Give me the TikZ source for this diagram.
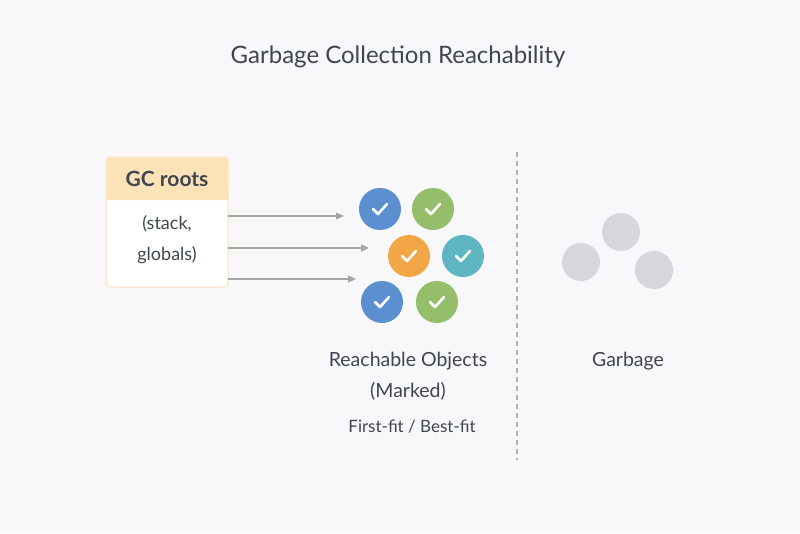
\documentclass[tikz,border=0pt]{standalone}
\usepackage{fontspec}
\setmainfont{Lato}
\usetikzlibrary{arrows.meta,calc}
\definecolor{bg}{HTML}{F8F8FA}
\definecolor{txt}{HTML}{3F4650}
\definecolor{cb}{HTML}{5B8FD0}
\definecolor{cg}{HTML}{94BE6A}
\definecolor{co}{HTML}{F2A646}
\definecolor{ct}{HTML}{5DB6C2}
\definecolor{gr}{HTML}{D6D7DD}
\definecolor{hdr}{HTML}{FCE2B6}
\definecolor{bdr}{HTML}{F7E3B8}
\begin{document}
\begin{tikzpicture}[x=1pt,y=-1pt,
  obj/.style={circle,minimum size=42pt,inner sep=0pt,draw=none},
  chk/.style={white,line width=2.6pt,line cap=round,line join=round},
  arr/.style={draw=gray!70,line width=1.2pt,-{Triangle[length=8pt,width=7pt]}},
  lbl/.style={text=txt,font=\fontsize{19.5}{22}\selectfont}]
\fill[bg] (0,0) rectangle (800,533);
\node[lbl,font=\fontsize{24}{28}\selectfont] (title) at (398,57) {Garbage Collection Reachability};
\fill[white,draw=bdr,line width=1pt,rounded corners=4pt] (106,157) rectangle (228,287);
\fill[hdr,rounded corners=4pt] (106.5,157.5) rectangle (227.5,200);
\fill[hdr] (106.5,190) rectangle (227.5,200);
\node[lbl,font=\bfseries\fontsize{21}{24}\selectfont] (gc) at (167,179) {GC roots};
\node[lbl,align=center,font=\fontsize{18}{31}\selectfont] (sg) at (167,240) {(stack,\\globals)};
\coordinate (s1) at (228,216); \coordinate (s2) at (228,248); \coordinate (s3) at (228,279);
\coordinate (e1) at (344,216); \coordinate (e2) at (369,248); \coordinate (e3) at (356,279);
\draw[arr] (s1) -- (e1); \draw[arr] (s2) -- (e2); \draw[arr] (s3) -- (e3);
\foreach \n/\x/\y/\c in {o1/380/209/cb,o2/433/209/cg,o3/409/256/co,o4/463/256/ct,o5/382/302/cb,o6/437/302/cg}{
  \node[obj,fill=\c] (\n) at (\x,\y) {};
  \draw[chk] ($(\x,\y)+(-7,0)$) -- ++(5,5) -- ++(9,-10);
}
\node[lbl] (r1) at (408,361) {Reachable Objects};
\node[lbl] (r2) at (408,391) {(Marked)};
\node[lbl,font=\fontsize{17}{20}\selectfont] (r3) at (412,427) {First-fit / Best-fit};
\draw[gray!60,line width=1.2pt,dash pattern=on 5pt off 4pt] (517,152) -- (517,460);
\foreach \n/\x/\y in {g1/581/262,g2/621/232,g3/654/270}{\node[obj,fill=gr,minimum size=38pt] (\n) at (\x,\y) {};}
\node[lbl] (gb) at (628,361) {Garbage};
\end{tikzpicture}
\end{document}
